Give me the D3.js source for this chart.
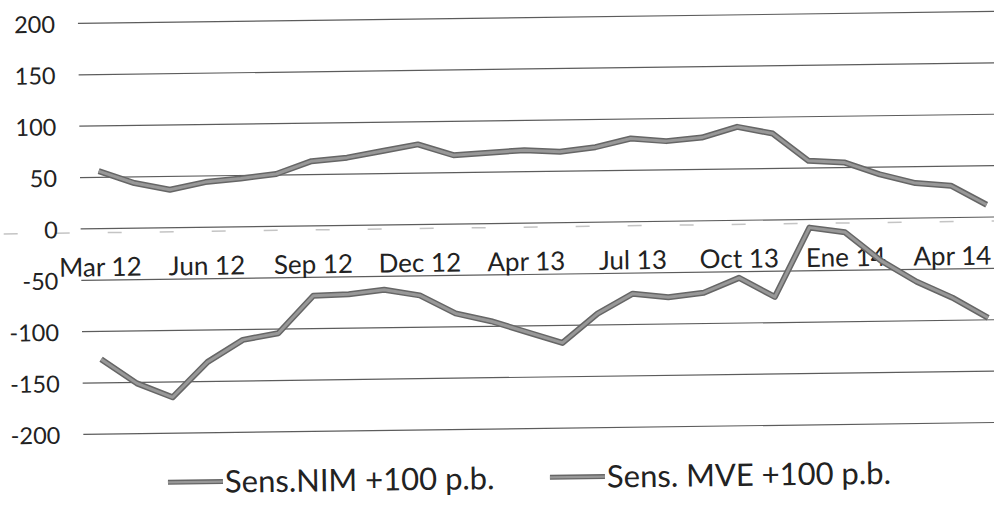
<!DOCTYPE html>
<html>
<head>
<meta charset="utf-8">
<script src="https://cdn.jsdelivr.net/npm/d3@7"></script>
<style>
  body { margin: 0; background: #fff; }
  #chart text { font-family: Lato, "Open Sans", sans-serif; fill: #222; }
</style>
</head>
<body>
<div id="chart"></div>
<script>
// periods (Jan 13 is not in the source series)
const periods = ["Mar 12","Apr 12","May 12","Jun 12","Jul 12","Aug 12","Sep 12","Oct 12","Nov 12","Dec 12",
  "Feb 13","Mar 13","Apr 13","May 13","Jun 13","Jul 13","Aug 13","Sep 13","Oct 13","Nov 13","Dec 13",
  "Ene 14","Feb 14","Mar 14","Apr 14","May 14"];
const tickLabels = ["Mar 12","Jun 12","Sep 12","Dec 12","Apr 13","Jul 13","Oct 13","Ene 14","Apr 14"];
const yTicks = [200, 150, 100, 50, 0, -50, -100, -150, -200];

const nim = [56, 44, 37, 44, 47, 51, 63, 66, 72, 78, 67, 69, 71, 69, 73, 81, 78, 81, 91, 84, 57, 55, 43, 34, 31, 12];
const mve = [-127, -151, -165, -131, -110, -104, -68, -67, -63, -69, -87, -95, -106, -117, -89, -70, -74, -70, -56, -75, -8, -13, -41, -62, -78, -98];

const seriesNames = ["Sens.NIM +100 p.b.", "Sens. MVE +100 p.b."];

const W = 994, H = 506;
const svg = d3.select("#chart").append("svg")
  .attr("width", W)
  .attr("height", H);

// the source is a slightly tilted scan
const root = svg.append("g").attr("transform", "rotate(-0.75, 497, 253)");

const x = d3.scalePoint()
  .domain(periods)
  .range([82, 1005])
  .padding(0.5);

const y = d3.scaleLinear()
  .domain([-200, 200])
  .range([429, 18]);

// faint remains of the category axis just under zero
root.append("line")
  .attr("x1", 4).attr("x2", 1010)
  .attr("y1", y(0) + 4).attr("y2", y(0) + 4)
  .attr("stroke", "#c4c4c4")
  .attr("stroke-width", 1.5)
  .attr("stroke-dasharray", "14,38");

// gridlines
root.append("g")
  .selectAll("line")
  .data(yTicks)
  .enter()
  .append("line")
  .attr("x1", 81)
  .attr("x2", 1010)
  .attr("y1", d => y(d))
  .attr("y2", d => y(d))
  .attr("stroke", "#5c5c5c")
  .attr("stroke-width", 1.2);

// y axis labels (plain hyphen for negatives)
const yAxis = root.append("g")
  .attr("transform", "translate(58,0)")
  .call(d3.axisLeft(y).tickValues(yTicks).tickFormat(d => String(d)).tickSize(0).tickPadding(0));
yAxis.select(".domain").remove();
yAxis.selectAll("text")
  .attr("dy", "0.36em")
  .style("font-size", "23.5px");

// x axis labels sit under the zero line
const xAxis = root.append("g")
  .attr("transform", "translate(0,271)")
  .call(d3.axisBottom(x).tickValues(tickLabels).tickSize(0).tickPadding(0));
xAxis.select(".domain").remove();
xAxis.selectAll("text")
  .attr("y", 0)
  .attr("dy", 0)
  .style("font-size", "26px");

const line = d3.line()
  .x((d, i) => x(periods[i]))
  .y(d => y(d));

[nim, mve].forEach(s => {
  root.append("path")
    .datum(s)
    .attr("fill", "none")
    .attr("stroke", "#666")
    .attr("stroke-width", 6)
    .attr("stroke-linejoin", "round")
    .attr("d", line);
  root.append("path")
    .datum(s)
    .attr("fill", "none")
    .attr("stroke", "#989898")
    .attr("stroke-width", 3)
    .attr("stroke-linejoin", "round")
    .attr("d", line);
});

// legend
const legendX = [165, 547];
const legend = root.append("g")
  .selectAll("g")
  .data(seriesNames)
  .enter()
  .append("g")
  .attr("transform", (d, i) => `translate(${legendX[i]},489)`);

legend.append("line")
  .attr("x1", 0).attr("x2", 55)
  .attr("y1", -11).attr("y2", -11)
  .attr("stroke", "#666")
  .attr("stroke-width", 5);
legend.append("line")
  .attr("x1", 0).attr("x2", 55)
  .attr("y1", -11).attr("y2", -11)
  .attr("stroke", "#989898")
  .attr("stroke-width", 2.2);

legend.append("text")
  .attr("x", 57)
  .attr("y", 0)
  .style("font-size", "31px")
  .text(d => d);
</script>
</body>
</html>
